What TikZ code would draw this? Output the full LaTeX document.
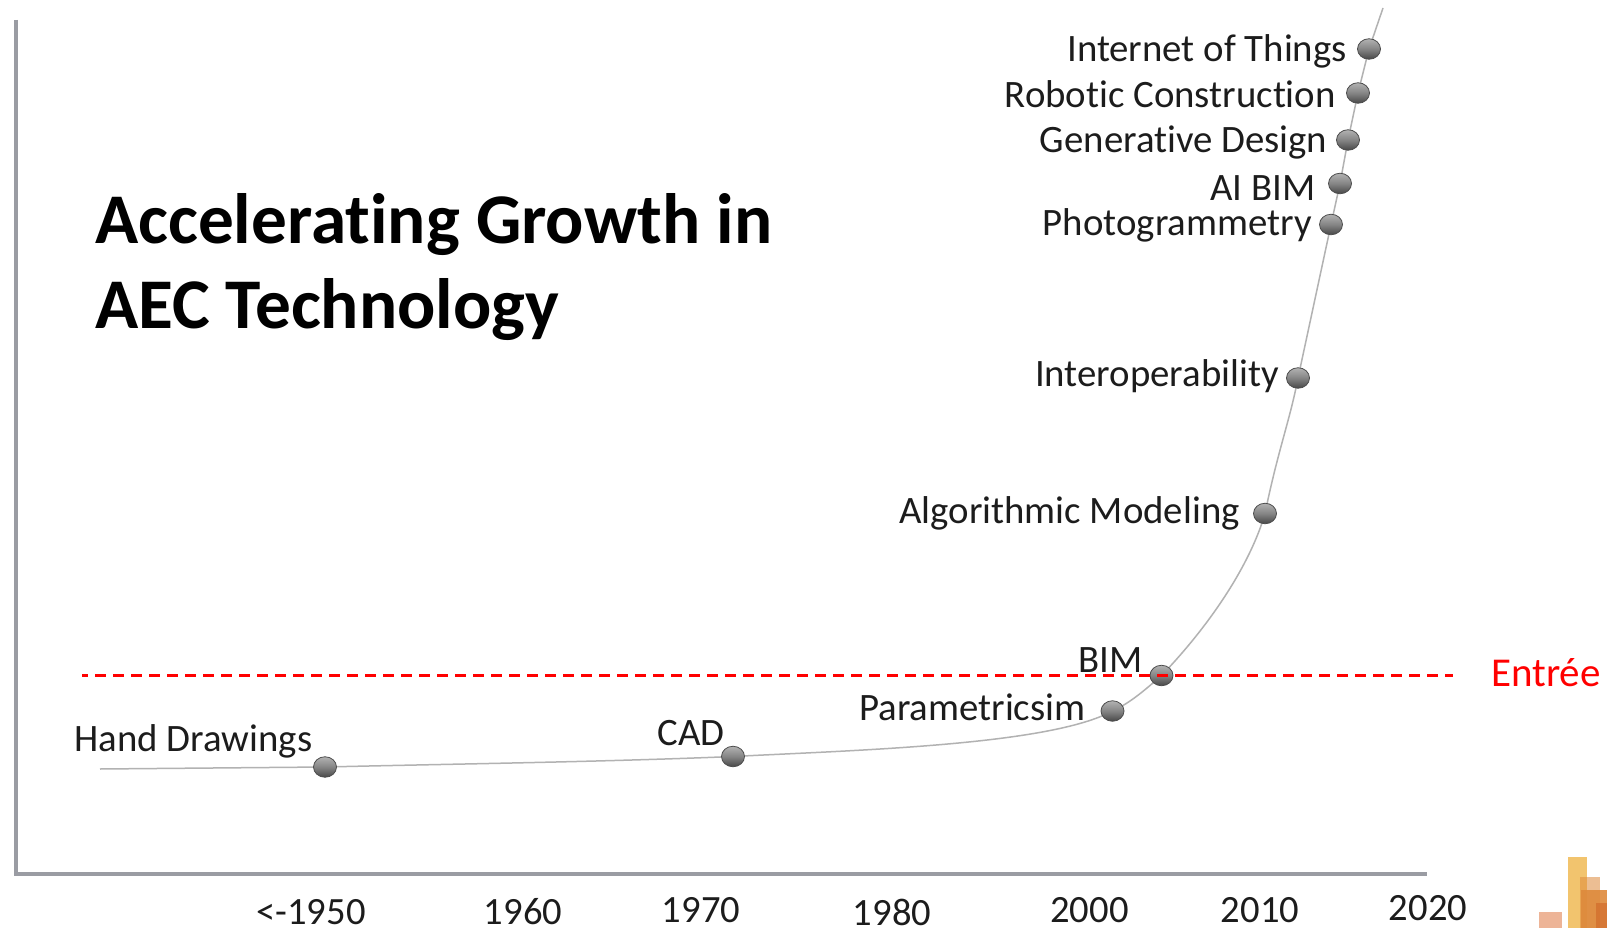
\documentclass[tikz,border=0pt]{standalone}
\usepackage{fontspec}
\setmainfont{Carlito}[RawFeature={-liga;-clig;-dlig}]
\usetikzlibrary{shadings,shapes.geometric}
\definecolor{axisgray}{HTML}{9A9CA3}
\definecolor{curvegray}{HTML}{B2B2B2}
\definecolor{inkc}{HTML}{1C1C1C}
\definecolor{entreered}{HTML}{FF0000}
\definecolor{logosalmon}{HTML}{EDB497}
\definecolor{logoyellow}{HTML}{F2C46E}
\definecolor{logoorange}{HTML}{DE8A3C}
\definecolor{logorust}{HTML}{C9581E}
\tikzset{
  ball/.style={ellipse,minimum width=23pt,minimum height=20.5pt,inner sep=0pt,draw=black!70,line width=0.8pt,
    top color=black!30,bottom color=black!72,middle color=black!48,shading angle=0},
  lab/.style={text=inkc,anchor=east,font=\fontsize{38.8}{38.8}\selectfont,inner sep=0pt},
  yearlab/.style={text=inkc,anchor=center,font=\fontsize{38.6}{38.6}\selectfont,inner sep=0pt},
  titlelab/.style={text=black,anchor=west,font=\fontsize{71.3}{71.3}\selectfont\bfseries,inner sep=0pt},
  axisline/.style={draw=axisgray,line width=4pt},
  growth/.style={draw=curvegray,line width=1.5pt},
  entryline/.style={draw=entreered,line width=2.4pt,dash pattern=on 11pt off 7pt,dash phase=5pt},
}
\begin{document}
\begin{tikzpicture}[x=1pt,y=-1pt]
\useasboundingbox (0,0) rectangle (1607,928);
\fill[white] (0,0) rectangle (1607,928);
% axes
\coordinate (axtop) at (15.5,20);
\coordinate (axcorner) at (15.5,874);
\coordinate (axend) at (1427,874);
\draw[axisline,line cap=butt,line join=miter] (axtop) -- (axcorner) -- (axend);
% anchor points
\coordinate (cstart) at (100,769);
\coordinate (cend) at (1383,8);
\node[coordinate] (nhand) at (325,767) {};
\node[coordinate] (ncad) at (733,756.5) {};
\node[coordinate] (npar) at (1112.5,711) {};
\node[coordinate] (nbim) at (1161.5,675.5) {};
\node[coordinate] (nalg) at (1265,513.5) {};
\node[coordinate] (nint) at (1298,378) {};
\node[coordinate] (npho) at (1331,224.5) {};
\node[coordinate] (nai) at (1340,183.5) {};
\node[coordinate] (ngen) at (1348,140) {};
\node[coordinate] (nrob) at (1358,93) {};
\node[coordinate] (niot) at (1369,49) {};
% curve
\draw[growth] (cstart) -- (nhand)
  .. controls (450,764) and (600,762) .. (ncad)
  .. controls (860,750) and (1050,745) .. (npar)
  .. controls (1130,703) and (1145,690) .. (nbim)
  .. controls (1210,625) and (1250,565) .. (nalg)
  .. controls (1278,450) and (1290,420) .. (nint)
  -- (npho) -- (nai) -- (ngen) -- (nrob) -- (niot) -- (cend);
% balls
\foreach \n/\p in {bhand/nhand,bcad/ncad,bpar/npar,bbim/nbim,balg/nalg,bint/nint,bpho/npho,bai/nai,bgen/ngen,brob/nrob,biot/niot}
  \node[ball] (\n) at (\p) {};
% dashed
\coordinate (dstart) at (82,675.5);
\coordinate (dend) at (1453,675.5);
\draw[entryline] (dstart) -- (dend);
\node[text=entreered,anchor=west,inner sep=0pt,font=\fontsize{41}{41}\selectfont] (entree) at (1491,673) {Entrée};
% labels
\node[lab] (liot) at (1347,51) {Internet of Things};
\node[lab] (lrob) at (1336,94) {Robotic Construction};
\node[lab] (lgen) at (1327.5,142) {Generative Design};
\node[lab] (lai) at (1315.5,188) {AI BIM};
\node[lab] (lpho) at (1312,225) {Photogrammetry};
\node[lab] (lint) at (1279,376) {Interoperability};
\node[lab] (lalg) at (1240,513) {Algorithmic Modeling};
\node[lab] (lbim) at (1143,660) {BIM};
\node[lab] (lpar) at (1085.5,707) {Parametricsim};
\node[lab] (lcad) at (725,733) {CAD};
\node[lab] (lhand) at (312.5,741) {Hand Drawings};
% years
\node[yearlab] (y50) at (311,912) {<-1950};
\node[yearlab] (y60) at (523,912) {1960};
\node[yearlab] (y70) at (701,910) {1970};
\node[yearlab] (y80) at (892,912) {1980};
\node[yearlab] (y00) at (1089.5,910) {2000};
\node[yearlab] (y10) at (1260,910) {2010};
\node[yearlab] (y20) at (1428,908) {2020};
% title
\node[titlelab] (t1) at (95,225) {Accelerating Growth in};
\node[titlelab] (t2) at (95,310) {AEC Technology};
% logo
\begin{scope}
\clip (1500,840) rectangle (1607,928);
\fill[logosalmon] (1539,912) rectangle (1562,928);
\fill[logoyellow] (1568,857) rectangle (1587,928);
\fill[logoorange,opacity=.55] (1580,877) rectangle (1600,928);
\fill[logoorange,opacity=.9] (1581,890) rectangle (1607,928);
\fill[logorust,opacity=.45] (1596,903) rectangle (1607,928);
\end{scope}
\end{tikzpicture}
\end{document}
